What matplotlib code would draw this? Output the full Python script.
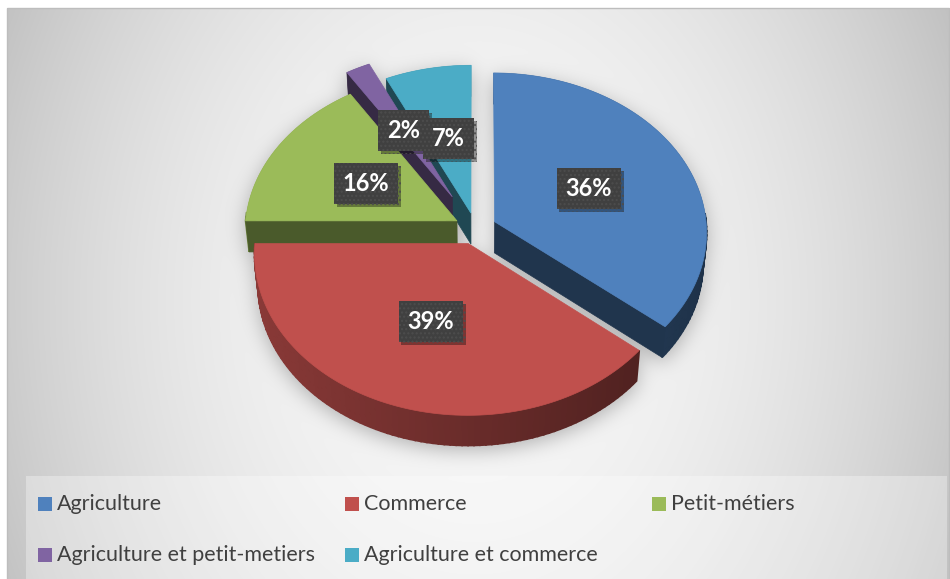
import numpy as np
import matplotlib
matplotlib.use('Agg')
import matplotlib.pyplot as plt
from matplotlib.patches import Polygon, Rectangle
from matplotlib.path import Path
import matplotlib.patheffects as pe

# ---------------- data ----------------
categories = ['Agriculture', 'Commerce', 'Petit-métiers',
              'Agriculture et petit-metiers', 'Agriculture et commerce']
values = [36, 39, 16, 2, 7]
pct_labels = ['36%', '39%', '16%', '2%', '7%']

# ---------------- style ----------------
colors = ['#4F81BD', '#C0504D', '#9BBB59', '#8064A2', '#4BACC6']
explode = [0.1, 0.1, 0.1, 0.23, 0.1]
draw_order = [4, 3, 2, 0, 1]

W, H = 950, 579
fig = plt.figure(figsize=(9.5, 5.79), dpi=100)
ax = fig.add_axes([0, 0, 1, 1])
ax.set_xlim(0, W)
ax.set_ylim(H, 0)
ax.axis('off')

# 3D projection parameters (pixel space)
S, D = 212.0, 10.5
alpha = np.arcsin(0.75)
sa, ca = np.sin(alpha), np.cos(alpha)
CX, CY = 475.5, 228.5
HT = 0.225


def proj(X, Y, Z):
    X = np.asarray(X, float); Y = np.asarray(Y, float); Z = np.asarray(Z, float)
    v = Y * sa + Z * ca
    w = D + Y * ca - Z * sa
    return np.column_stack([CX + S * D * X / w, CY - S * D * v / w])


def rgb(c):
    c = c.lstrip('#')
    return np.array([int(c[i:i + 2], 16) for i in (0, 2, 4)]) / 255.0


fr = np.array(values, float) / sum(values)
ends = 90 - 360 * np.cumsum(fr)
starts = ends + 360 * fr

slices = []
for i in range(len(values)):
    t1, t2 = np.radians(starts[i]), np.radians(ends[i])
    bis = (t1 + t2) / 2
    ex, ey = explode[i] * np.cos(bis), explode[i] * np.sin(bis)
    n = max(8, int(abs(t1 - t2) / np.radians(1.5)))
    th = np.linspace(t1, t2, n)
    ax_, ay_ = ex + np.cos(th), ey + np.sin(th)
    top_arc = proj(ax_, ay_, np.zeros(n))
    bot_arc = proj(ax_, ay_, np.full(n, -HT))
    c_top = proj([ex], [ey], [0])[0]
    c_bot = proj([ex], [ey], [-HT])[0]
    top = np.vstack([c_top, top_arc])
    bot = np.vstack([c_bot, bot_arc])
    strip = np.vstack([top_arc, bot_arc[::-1]])
    rad1 = np.array([c_top, top_arc[0], bot_arc[0], c_bot])
    rad2 = np.array([c_top, top_arc[-1], bot_arc[-1], c_bot])
    lab = proj([ex + 0.5 * np.cos(bis)], [ey + 0.5 * np.sin(bis)], [0])[0]
    slices.append(dict(t1=t1, t2=t2, th=th, top=top, bot=bot, strip=strip,
                       rad1=rad1, rad2=rad2, top_arc=top_arc, bot_arc=bot_arc,
                       lab=lab))

# ---------------- background with soft shadow ----------------
yy, xx = np.mgrid[0:H, 0:W] + 0.5
r2 = ((xx - 475) / 465) ** 2 + ((yy - 300) / 600) ** 2
g = np.clip(248 - 43 * r2, 0, 255) / 255.0

pts = np.column_stack([xx.ravel(), yy.ravel() - 5])
mask = np.zeros(W * H, bool)
for s in slices:
    for poly in (s['top'], s['bot'], s['strip'], s['rad1'], s['rad2']):
        mask |= Path(poly).contains_points(pts)
mask = mask.reshape(H, W).astype(float)


def gblur(a, sigma):
    k = np.arange(-3 * sigma, 3 * sigma + 1)
    k = np.exp(-k ** 2 / (2.0 * sigma ** 2))
    k /= k.sum()
    a = np.apply_along_axis(lambda m: np.convolve(m, k, mode='same'), 0, a)
    a = np.apply_along_axis(lambda m: np.convolve(m, k, mode='same'), 1, a)
    return a


sh = gblur(mask, 10)
g = g * (1 - 0.28 * sh)
bg = np.dstack([g, g, g])
bg[:, :7] = 1
bg[:8, :] = 1
ax.imshow(bg, extent=(0, W, H, 0), interpolation='bilinear', zorder=0, aspect='auto')
ax.add_patch(Rectangle((7, 8), W - 8, H, fill=False, ec='#bdbdbd', lw=1, zorder=1))

# ---------------- slices ----------------
for i in draw_order:
    s = slices[i]
    base = rgb(colors[i])
    z = 2
    th = s['th']
    ta, ba = s['top_arc'], s['bot_arc']
    # outer wall: base strip then shaded segments
    fmid = 0.55 - 0.17 * np.cos((s['t1'] + s['t2']) / 2)
    ax.add_patch(Polygon(s['strip'], closed=True, fc=np.clip(base * fmid, 0, 1),
                         ec='none', zorder=z))
    for k in range(len(th) - 1):
        mid = (th[k] + th[k + 1]) / 2
        if np.sin(mid) < 0.05:
            f = 0.55 - 0.17 * np.cos(mid)
            col = np.clip(base * f, 0, 1)
            quad = np.array([ta[k], ta[k + 1], ba[k + 1], ba[k]])
            ax.add_patch(Polygon(quad, closed=True, fc=col, ec=col, lw=1.3,
                                 joinstyle='miter', zorder=z))
    # visible radial walls
    rf = 0.48 if i == 2 else 0.42
    if np.cos(s['t1']) < -1e-6:
        col = base * rf
        ax.add_patch(Polygon(s['rad1'], closed=True, fc=col, ec=col, lw=0.5, zorder=z))
    if np.cos(s['t2']) > 1e-6:
        col = base * 0.41
        ax.add_patch(Polygon(s['rad2'], closed=True, fc=col, ec=col, lw=0.5, zorder=z))
    ax.add_patch(Polygon(s['top'], closed=True, fc=colors[i], ec=colors[i], lw=0.5, zorder=z))

# ---------------- labels ----------------
for i, s in enumerate(slices):
    t = ax.text(s['lab'][0], s['lab'][1], pct_labels[i], ha='center', va='center',
                color='white', fontsize=17, fontweight='bold', family=['Lato', 'DejaVu Sans'],
                zorder=10,
                bbox=dict(boxstyle='square,pad=0.38', fc='#404040', ec='#4d4d4d', lw=0,
                          hatch='....'))
    t.get_bbox_patch().set_path_effects([
        pe.SimplePatchShadow(offset=(2, -2), shadow_rgbFace='black', alpha=0.35),
        pe.Normal()])

# ---------------- legend ----------------
ax.add_patch(Rectangle((26, 476), 921, 110, fc='white', alpha=0.32, ec='none', zorder=5))
for i, name in enumerate(categories):
    col, row = i % 3, i // 3
    x0 = 38 + 307 * col
    yc = 504 + 51 * row
    ax.add_patch(Rectangle((x0, yc - 7), 14, 14, fc=colors[i], ec='none', zorder=6))
    ax.text(x0 + 19, yc, name, ha='left', va='center', color='#404040', fontsize=15.5,
            family=['Lato', 'DejaVu Sans'], zorder=6)

fig.savefig('out.png', dpi=100)
